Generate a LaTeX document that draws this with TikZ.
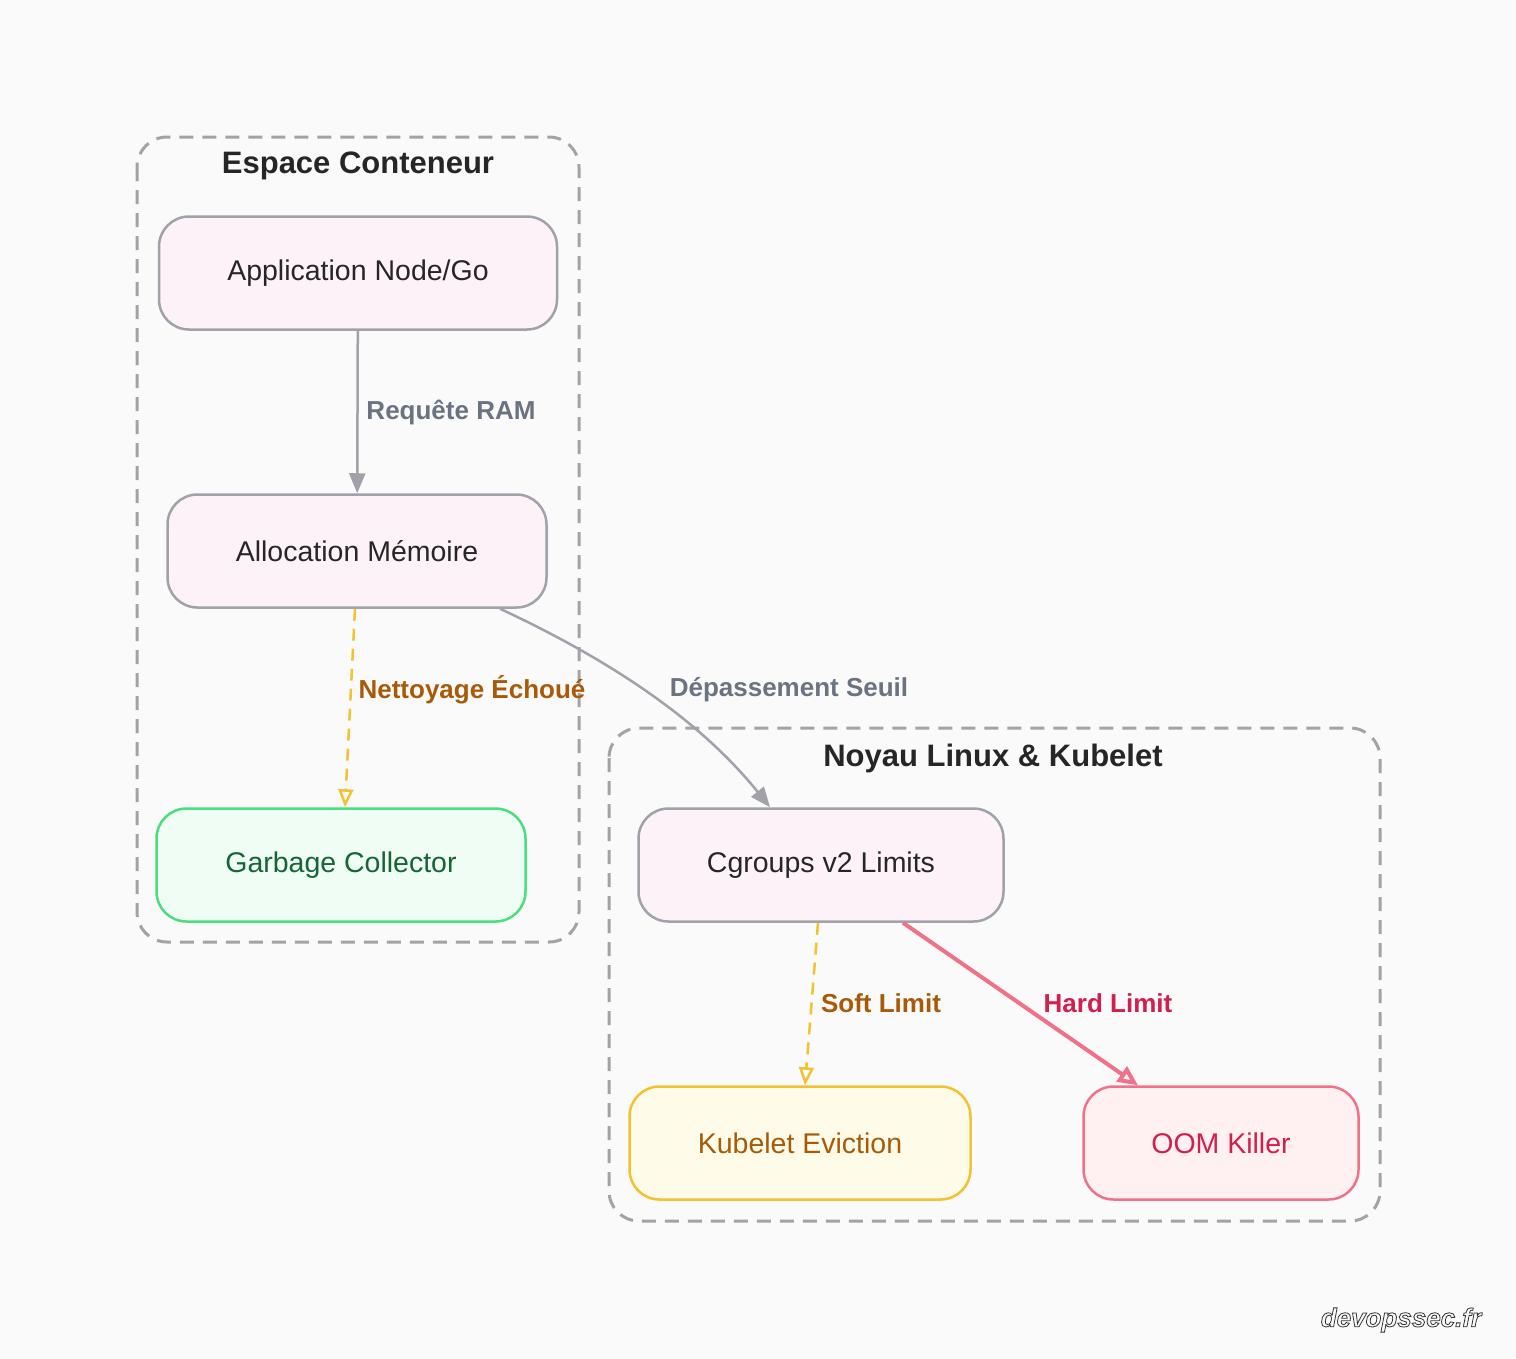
\documentclass[tikz,border=0pt]{standalone}
\usepackage{fontspec}
\setmainfont{Liberation Sans}
\usetikzlibrary{arrows.meta}
\definecolor{bg}{HTML}{FAFAFA}
\definecolor{pinkf}{HTML}{FDF2F8}
\definecolor{grayb}{HTML}{A1A1AA}
\definecolor{grayt}{HTML}{6B7280}
\definecolor{greenf}{HTML}{F0FDF4}
\definecolor{greenb}{HTML}{4ADE80}
\definecolor{greent}{HTML}{166534}
\definecolor{yelf}{HTML}{FEFCE8}
\definecolor{yelb}{HTML}{F2C230}
\definecolor{brownt}{HTML}{A85A08}
\definecolor{redf}{HTML}{FFF1F2}
\definecolor{redb}{HTML}{F07288}
\definecolor{redt}{HTML}{D11F4E}
\definecolor{clus}{HTML}{A3A3A3}
\begin{document}
\begin{tikzpicture}[x=1pt,y=-1pt,
 box/.style={draw=grayb,fill=pinkf,line width=2.5pt,rounded corners=30pt,inner sep=0pt,font=\fontsize{28.5}{32}\selectfont,text=black!85},
 cl/.style={draw=clus,dash pattern=on 14pt off 9pt,line width=3pt,rounded corners=30pt},
 ttl/.style={font=\bfseries\fontsize{31}{35}\selectfont,text=black!85},
 lab/.style={font=\bfseries\fontsize{26}{30}\selectfont},
 ed/.style={line width=2.5pt,draw=grayb,-{Triangle[length=20pt,width=16pt]}},
 dsh/.style={line width=2.5pt,draw=yelb,dash pattern=on 12pt off 8pt,-{Triangle[open,length=18pt,width=15pt]}}]
\fill[bg] (0,0) rectangle (1516,1358);
\draw[cl] (137,137) rectangle (579,942);
\draw[cl] (609,728) rectangle (1380,1221);
\node[ttl] (t1) at (358,166) {Espace Conteneur};
\node[ttl] (t2) at (993,758) {Noyau Linux \& Kubelet};
\node[box,minimum width=398pt,minimum height=113pt] (app) at (358,273) {Application Node/Go};
\node[box,minimum width=379pt,minimum height=113pt] (alloc) at (357,551) {Allocation Mémoire};
\node[box,draw=greenb,fill=greenf,text=greent,minimum width=369pt,minimum height=113pt] (gc) at (341,865) {Garbage Collector};
\node[box,minimum width=365pt,minimum height=113pt] (cg) at (821,865) {Cgroups v2 Limits};
\node[box,draw=yelb,fill=yelf,text=brownt,minimum width=341pt,minimum height=113pt] (kub) at (800,1143) {Kubelet Eviction};
\node[box,draw=redb,fill=redf,text=redt,minimum width=275pt,minimum height=113pt] (oom) at (1221,1143) {OOM Killer};
\draw[ed] (app) -- (alloc);
\node[lab,text=grayt] (l1) at (451,412) {Requête RAM};
\draw[dsh] (alloc.south -| 355,0) -- (gc.north -| 345,0);
\node[lab,text=brownt] (l2) at (472,690) {Nettoyage Échoué};
\draw[ed] (alloc.south -| 500,0) .. controls (610,660) and (700,720) .. (cg.north -| 770,0);
\node[lab,text=grayt] (l3) at (789,690) {Dépassement Seuil};
\draw[dsh] (cg.south -| 818,0) -- (kub.north -| 805,0);
\node[lab,text=brownt] (l4) at (881,1003) {Soft Limit};
\draw[line width=4pt,draw=redb,-{Triangle[open,length=20pt,width=18pt]}] (cg.south -| 903,0) -- (oom.north -| 1138,0);
\node[lab,text=redt] (l5) at (1108,1003) {Hard Limit};
\node[font=\itshape\bfseries\fontsize{26}{30}\selectfont,text=white] (wm) at (1401,1320) {\special{pdf:literal 1 Tr 0.8 w 0.2 g 0.2 G}devopssec.fr\special{pdf:literal 0 Tr}};
\end{tikzpicture}
\end{document}
